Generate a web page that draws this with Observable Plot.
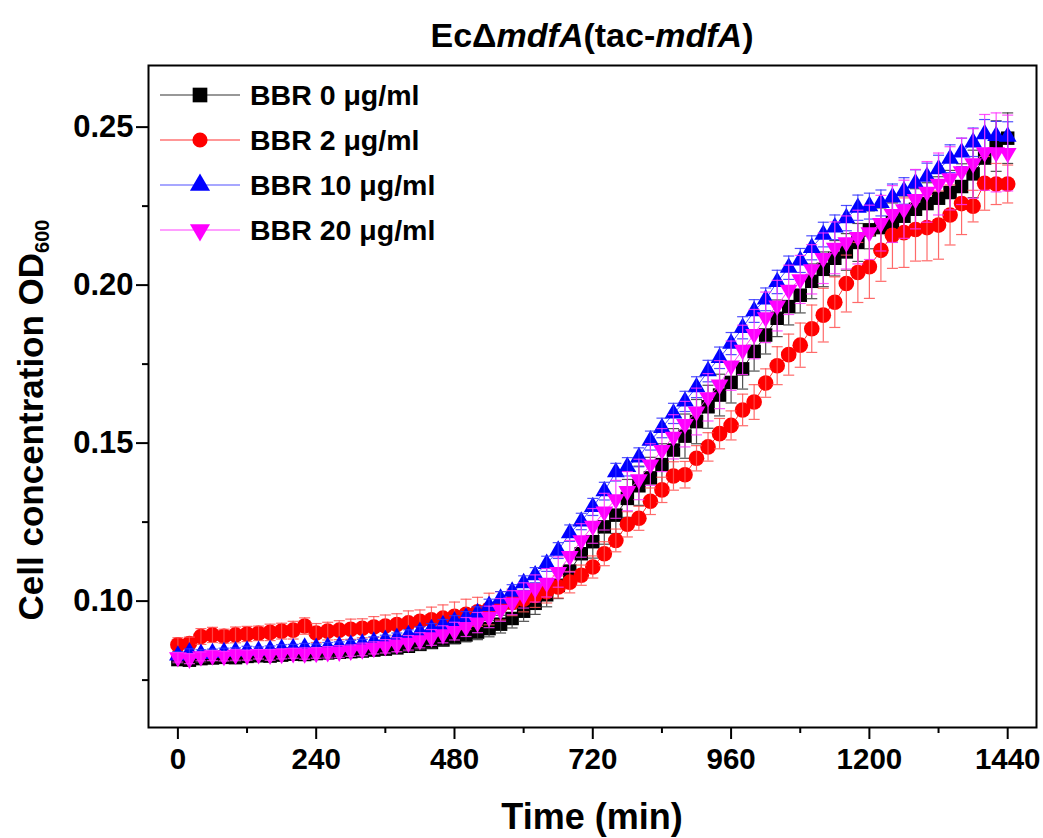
<!DOCTYPE html>
<html>
<head>
<meta charset="utf-8">
<script src="https://cdn.jsdelivr.net/npm/d3@7"></script>
<script src="https://cdn.jsdelivr.net/npm/@observablehq/plot@0.6"></script>
<style>
html,body{margin:0;padding:0;background:#fff;}
body{font-family:"Liberation Sans",Arial,sans-serif;font-weight:bold;color:#000;}
#wrap{position:relative;width:1043px;height:838px;overflow:hidden;background:#fff;}
#title{position:absolute;left:148px;width:888px;top:13px;height:44px;line-height:44px;text-align:center;font-size:34px;white-space:nowrap;}
#chart{position:absolute;left:0;top:60px;}
#ylab{position:absolute;left:31px;top:420px;width:600px;height:36px;line-height:36px;margin-left:-300px;margin-top:-18px;text-align:center;font-size:35px;transform:rotate(-90deg);white-space:nowrap;}
#ylab sub{font-size:20px;vertical-align:-6px;line-height:0;}
#xlab{position:absolute;left:148px;width:888px;top:797px;height:40px;font-size:36px;text-align:center;line-height:40px;white-space:nowrap;}
#legsvg{position:absolute;left:0;top:0;pointer-events:none;}
.legtxt{position:absolute;left:250px;height:40px;line-height:40px;font-size:28.5px;white-space:nowrap;}
</style>
</head>
<body>
<div id="wrap">
  <div id="chart"></div>
  <div id="title">Ec&Delta;<i>mdfA</i>(tac-<i>mdfA</i>)</div>
  <div id="ylab">Cell concentration OD<sub>600</sub></div>
  <div id="xlab">Time (min)</div>
</div>
<script>
// ---- data ----
const times = [0,20,40,60,80,100,120,140,160,180,200,220,240,260,280,300,320,340,360,380,
  400,420,440,460,480,500,520,540,560,580,600,620,640,660,680,700,720,740,760,780,
  800,820,840,860,880,900,920,940,960,980,1000,1020,1040,1060,1080,1100,1120,1140,1160,1180,
  1200,1220,1240,1260,1280,1300,1320,1340,1360,1380,1400,1420,1440];

const seriesNames = ["BBR 0 \u03bcg/ml","BBR 2 \u03bcg/ml","BBR 10 \u03bcg/ml","BBR 20 \u03bcg/ml"];

const od0 = [0.0815,0.0813,0.0818,0.0820,0.0822,0.0821,0.0825,0.0827,0.0826,0.0829,
  0.0832,0.0831,0.0834,0.0836,0.0838,0.0840,0.0842,0.0845,0.0848,0.0852,
  0.0857,0.0863,0.0869,0.0877,0.0885,0.0893,0.0902,0.0913,0.0927,0.0945,
  0.0968,0.0993,0.1020,0.1050,0.1095,0.1150,0.1188,0.1235,0.1272,0.1325,
  0.1365,0.1390,0.1432,0.1478,0.1522,0.1568,0.1615,0.1652,0.1692,0.1735,
  0.1790,0.1842,0.1895,0.1932,0.1968,0.2012,0.2050,0.2085,0.2105,0.2135,
  0.2175,0.2182,0.2198,0.2218,0.2240,0.2258,0.2275,0.2293,0.2312,0.2352,
  0.2402,0.2440,0.2465];
const od2 = [0.0862,0.0866,0.0888,0.0893,0.0889,0.0893,0.0896,0.0898,0.0901,0.0905,
  0.0908,0.0921,0.0899,0.0905,0.0908,0.0911,0.0914,0.0918,0.0921,0.0926,
  0.0931,0.0936,0.0941,0.0946,0.0952,0.0958,0.0966,0.0975,0.0985,0.0996,
  0.1006,0.1018,0.1030,0.1045,0.1060,0.1082,0.1108,0.1150,0.1192,0.1243,
  0.1262,0.1316,0.1352,0.1396,0.1400,0.1452,0.1488,0.1530,0.1556,0.1605,
  0.1630,0.1690,0.1745,0.1780,0.1810,0.1862,0.1905,0.1946,0.2005,0.2040,
  0.2058,0.2110,0.2158,0.2166,0.2176,0.2182,0.2190,0.2222,0.2258,0.2250,
  0.2322,0.2320,0.2320];
const od10 = [0.0828,0.0838,0.0833,0.0836,0.0839,0.0841,0.0844,0.0843,0.0846,0.0849,
  0.0851,0.0853,0.0852,0.0855,0.0858,0.0862,0.0866,0.0872,0.0878,0.0884,
  0.0893,0.0903,0.0912,0.0924,0.0936,0.0948,0.0962,0.0985,0.1008,0.1030,
  0.1057,0.1082,0.1118,0.1160,0.1215,0.1252,0.1298,0.1348,0.1408,0.1425,
  0.1455,0.1508,0.1548,0.1594,0.1632,0.1677,0.1728,0.1770,0.1815,0.1865,
  0.1918,0.1955,0.2010,0.2055,0.2078,0.2118,0.2160,0.2183,0.2212,0.2245,
  0.2250,0.2260,0.2278,0.2298,0.2322,0.2343,0.2367,0.2400,0.2420,0.2452,
  0.2478,0.2472,0.2470];
const od20 = [0.0822,0.0818,0.0825,0.0828,0.0826,0.0830,0.0829,0.0832,0.0830,0.0833,
  0.0835,0.0834,0.0836,0.0838,0.0840,0.0843,0.0847,0.0852,0.0857,0.0862,
  0.0868,0.0876,0.0885,0.0895,0.0905,0.0918,0.0932,0.0950,0.0972,0.0995,
  0.1018,0.1040,0.1058,0.1092,0.1142,0.1192,0.1238,0.1283,0.1322,0.1348,
  0.1385,0.1432,0.1478,0.1520,0.1560,0.1600,0.1645,0.1685,0.1745,0.1795,
  0.1845,0.1898,0.1935,0.1985,0.2018,0.2050,0.2085,0.2118,0.2135,0.2152,
  0.2167,0.2196,0.2225,0.2240,0.2272,0.2295,0.2320,0.2338,0.2360,0.2385,
  0.2420,0.2420,0.2418];

const err0 = [0.0012,0.0010,0.0012,0.0011,0.0013,0.0012,0.0010,0.0012,0.0013,0.0011,
  0.0012,0.0013,0.0012,0.0011,0.0012,0.0013,0.0014,0.0013,0.0014,0.0015,
  0.0016,0.0017,0.0018,0.0019,0.0020,0.0022,0.0024,0.0026,0.0028,0.0030,
  0.0032,0.0035,0.0038,0.0042,0.0045,0.0050,0.0052,0.0055,0.0058,0.0060,
  0.0062,0.0065,0.0066,0.0068,0.0070,0.0070,0.0068,0.0066,0.0065,0.0064,
  0.0062,0.0060,0.0058,0.0058,0.0056,0.0055,0.0055,0.0056,0.0058,0.0060,
  0.0060,0.0062,0.0062,0.0064,0.0065,0.0066,0.0068,0.0070,0.0072,0.0075,
  0.0078,0.0080,0.0080];
const err2 = [0.0022,0.0020,0.0025,0.0024,0.0022,0.0025,0.0024,0.0023,0.0026,0.0025,
  0.0028,0.0026,0.0030,0.0028,0.0030,0.0032,0.0030,0.0033,0.0035,0.0034,
  0.0038,0.0036,0.0040,0.0042,0.0045,0.0048,0.0046,0.0050,0.0045,0.0042,
  0.0040,0.0038,0.0036,0.0035,0.0034,0.0032,0.0035,0.0038,0.0036,0.0040,
  0.0038,0.0042,0.0040,0.0045,0.0042,0.0040,0.0045,0.0048,0.0046,0.0050,
  0.0055,0.0045,0.0060,0.0065,0.0070,0.0075,0.0085,0.0080,0.0090,0.0095,
  0.0100,0.0098,0.0105,0.0110,0.0100,0.0105,0.0108,0.0095,0.0098,0.0050,
  0.0085,0.0065,0.0060];
const err10 = [0.0012,0.0011,0.0013,0.0012,0.0012,0.0011,0.0013,0.0012,0.0012,0.0013,
  0.0012,0.0013,0.0012,0.0014,0.0013,0.0014,0.0013,0.0015,0.0014,0.0015,
  0.0016,0.0016,0.0017,0.0018,0.0018,0.0019,0.0020,0.0021,0.0022,0.0022,
  0.0023,0.0024,0.0024,0.0025,0.0026,0.0026,0.0027,0.0028,0.0028,0.0029,
  0.0030,0.0030,0.0031,0.0032,0.0032,0.0033,0.0034,0.0034,0.0035,0.0035,
  0.0036,0.0036,0.0037,0.0037,0.0038,0.0038,0.0039,0.0039,0.0040,0.0040,
  0.0041,0.0041,0.0042,0.0042,0.0043,0.0043,0.0044,0.0044,0.0045,0.0045,
  0.0046,0.0046,0.0047];
const err20 = [0.0015,0.0016,0.0014,0.0016,0.0015,0.0017,0.0016,0.0015,0.0017,0.0016,
  0.0016,0.0018,0.0017,0.0018,0.0019,0.0018,0.0020,0.0019,0.0021,0.0022,
  0.0023,0.0024,0.0025,0.0027,0.0028,0.0030,0.0032,0.0034,0.0036,0.0038,
  0.0040,0.0043,0.0045,0.0048,0.0050,0.0053,0.0055,0.0058,0.0060,0.0062,
  0.0064,0.0066,0.0068,0.0070,0.0072,0.0074,0.0075,0.0076,0.0078,0.0078,
  0.0078,0.0080,0.0080,0.0078,0.0076,0.0078,0.0080,0.0082,0.0084,0.0085,
  0.0086,0.0088,0.0090,0.0092,0.0094,0.0096,0.0098,0.0100,0.0105,0.0110,
  0.0120,0.0125,0.0120];

const xMajorTicks = [0,240,480,720,960,1200,1440];
const xMinorTicks = [120,360,600,840,1080,1320];
const yMajorTicks = [0.10,0.15,0.20,0.25];
const yMinorTicks = [0.075,0.125,0.175,0.225];

// ---- styling ----
const triangleDown = {
  draw(ctx, size) {
    const y = Math.sqrt(size / (Math.sqrt(3) * 3));
    ctx.moveTo(0, 2 * y);
    ctx.lineTo(Math.sqrt(3) * y, -y);
    ctx.lineTo(-Math.sqrt(3) * y, -y);
    ctx.closePath();
  }
};
const capSymbol = {
  draw(ctx, size) {
    const h = Math.sqrt(size / Math.PI);
    ctx.moveTo(-h, 0);
    ctx.lineTo(h, 0);
  }
};

const styles = [
  {color:"#000000", line:"#333333", bar:"#333333", symbol:"square", r:7.6, legSym:d3.symbolSquare, legSize:215},
  {color:"#ff0000", line:"#ff3030", bar:"#ff5050", symbol:"circle", r:7.8, legSym:d3.symbolCircle, legSize:180},
  {color:"#0000ff", line:"#5050ff", bar:"#3030ff", symbol:"triangle", r:6.6, legSym:d3.symbolTriangle, legSize:175},
  {color:"#ff00ff", line:"#ff40ff", bar:"#ff30ff", symbol:triangleDown, r:6.6, legSym:triangleDown, legSize:175}
];
const valueSets = [od0, od2, od10, od20];
const errorSets = [err0, err2, err10, err20];

const rows = seriesNames.flatMap((name, k) =>
  times.map((t, i) => ({series: name, k, t, v: valueSets[k][i], e: errorSets[k][i]})));

const marks = [];
seriesNames.forEach((name, k) => {
  const s = styles[k];
  const d = rows.filter(r => r.k === k);
  marks.push(Plot.line(d, {x: "t", y: "v", stroke: s.line, strokeWidth: 1}));
  marks.push(Plot.dot(d, {x: "t", y: "v", symbol: s.symbol, r: s.r, fill: s.color, stroke: "none"}));
  marks.push(Plot.ruleX(d, {x: "t", y1: r => r.v - r.e, y2: r => r.v + r.e, stroke: s.bar, strokeWidth: 1.2, strokeOpacity: 0.85}));
  marks.push(Plot.dot(d, {x: "t", y: r => r.v + r.e, symbol: capSymbol, r: 5.5, fill: "none", stroke: s.bar, strokeWidth: 1.2, strokeOpacity: 0.85}));
  marks.push(Plot.dot(d, {x: "t", y: r => r.v - r.e, symbol: capSymbol, r: 5.5, fill: "none", stroke: s.bar, strokeWidth: 1.2, strokeOpacity: 0.85}));
});

const chart = Plot.plot({
  width: 1043,
  height: 778,
  marginLeft: 148,
  marginRight: 7,
  marginTop: 5,
  marginBottom: 111,
  style: {fontFamily: "'Liberation Sans', Arial, sans-serif", fontWeight: "bold", fontSize: "29px", color: "#000", background: "#fff", overflow: "visible"},
  x: {domain: [-51, 1490], label: null},
  y: {domain: [0.06, 0.2695], label: null},
  marks: [
    ...marks,
    Plot.axisX(xMajorTicks, {tickSize: 12, tickPadding: 9, strokeWidth: 2, fontSize: 29.5, tickFormat: d => String(d), label: null}),
    Plot.axisX(xMinorTicks, {tickSize: 6, strokeWidth: 2, tickFormat: () => "", label: null}),
    Plot.axisY(yMajorTicks, {tickSize: 12, tickPadding: 3, strokeWidth: 2, fontSize: 31, tickFormat: d3.format(".2f"), label: null}),
    Plot.axisY(yMinorTicks, {tickSize: 6, strokeWidth: 2, tickFormat: () => "", label: null}),
    Plot.frame({stroke: "#000", strokeWidth: 2})
  ]
});
document.getElementById("chart").appendChild(chart);

// ---- legend ----
const wrap = d3.select("#wrap");
const legSvg = wrap.append("svg").attr("id", "legsvg").attr("width", 1043).attr("height", 838);
const legRows = [95, 140, 185, 230];
seriesNames.forEach((name, k) => {
  const s = styles[k];
  const y = legRows[k];
  legSvg.append("line").attr("x1", 160).attr("x2", 240).attr("y1", y).attr("y2", y)
    .attr("stroke", s.line).attr("stroke-width", 1.2);
  legSvg.append("path").attr("d", d3.symbol(s.legSym, s.legSize)())
    .attr("transform", `translate(200,${y})`).attr("fill", s.color);
  wrap.append("div").attr("class", "legtxt").style("top", (y - 20) + "px").text(name);
});
</script>
</body>
</html>
